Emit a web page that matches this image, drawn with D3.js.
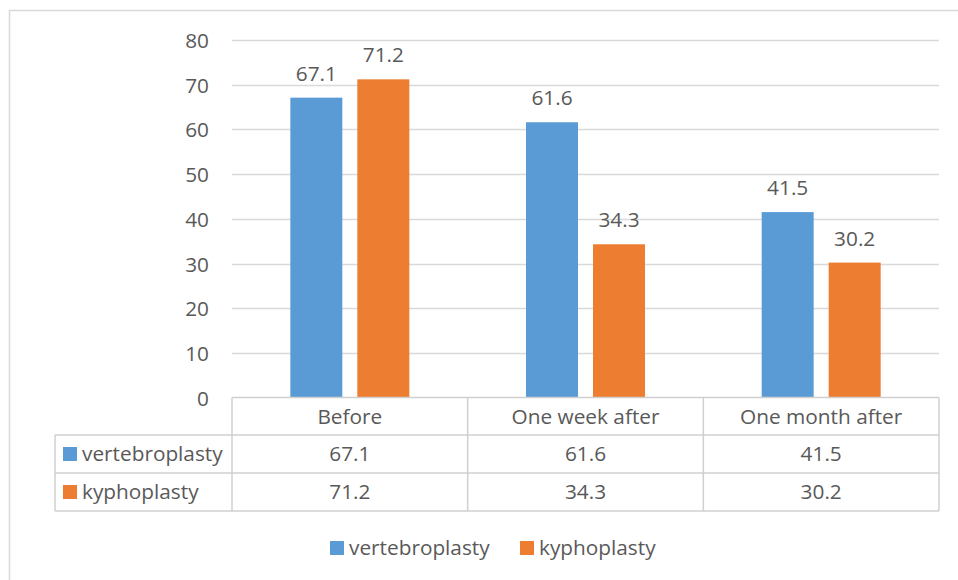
<!DOCTYPE html>
<html><head><meta charset="utf-8">
<script src="https://cdn.jsdelivr.net/npm/d3@7"></script>
<style>body{margin:0;background:#fff}svg{display:block}text{font-family:"Open Sans",sans-serif;fill:#595959}</style>
</head><body><svg id="c" width="958" height="580"></svg>
<script>
const categories = ["Before", "One week after", "One month after"];
const seriesNames = ["vertebroplasty", "kyphoplasty"];
const vertebroplasty = [67.1, 61.6, 41.5];
const kyphoplasty = [71.2, 34.3, 30.2];
const yTicks = [0, 10, 20, 30, 40, 50, 60, 70, 80];
const colors = ["#5b9bd5", "#ed7d31"];

(function () {
const series = [vertebroplasty, kyphoplasty];
const svg = d3.select("#c");
const FS = 20.8;

// outer chart border
svg.append("rect").attr("x", 9.5).attr("y", 10.5).attr("width", 960).attr("height", 580)
  .attr("fill", "none").attr("stroke", "#d9d9d9").attr("stroke-width", 1.5);

const pL = 232, pR = 939, pT = 40, pB = 397.6;
const x = d3.scaleBand().domain(categories).range([pL, pR]).paddingInner(0).paddingOuter(0);
const y = d3.scaleLinear().domain([0, 80]).range([pB, pT]);

// gridlines
svg.append("g").selectAll("line").data(yTicks.filter(d => d > 0)).join("line")
  .attr("x1", pL).attr("x2", pR).attr("y1", d => Math.round(y(d)) + 0.5).attr("y2", d => Math.round(y(d)) + 0.5)
  .attr("stroke", "#d9d9d9").attr("stroke-width", 1.3);

// y axis labels
const yAxis = d3.axisLeft(y).tickValues(yTicks).tickSize(0).tickPadding(0);
const ga = svg.append("g").attr("transform", `translate(${209},0)`).call(yAxis);
ga.select(".domain").remove();
ga.selectAll("text").attr("font-size", FS).attr("font-family", "Open Sans").attr("fill", "#595959").attr("dy", "0.36em");

// bars
const bw = 52, gap = 15;
const x1 = d3.scaleBand().domain([0, 1]).range([0, 2 * bw + gap]).paddingInner(gap / (bw + gap));
series.forEach((vals, si) => {
  const g = svg.append("g");
  g.selectAll("rect").data(vals).join("rect")
    .attr("x", (d, i) => x(categories[i]) + x.bandwidth() / 2 - (2 * bw + gap) / 2 + x1(si))
    .attr("width", x1.bandwidth())
    .attr("y", d => y(d)).attr("height", d => y(0) - y(d))
    .attr("fill", colors[si]);
  g.selectAll("text").data(vals).join("text")
    .attr("x", (d, i) => x(categories[i]) + x.bandwidth() / 2 - (2 * bw + gap) / 2 + x1(si) + x1.bandwidth() / 2)
    .attr("y", d => y(d) - 17)
    .attr("text-anchor", "middle").attr("font-size", FS)
    .text(d => d.toFixed(1));
});

// data table
const tLeft = 55, rows = [397.6, 435, 473, 511];
const tg = svg.append("g").attr("stroke", "#d0d0d0").attr("stroke-width", 1.5);
tg.append("line").attr("x1", pL).attr("x2", pR).attr("y1", rows[0]).attr("y2", rows[0]);
[1, 2, 3].forEach(r => tg.append("line").attr("x1", tLeft).attr("x2", pR).attr("y1", rows[r]).attr("y2", rows[r]));
tg.append("line").attr("x1", tLeft).attr("x2", tLeft).attr("y1", rows[1]).attr("y2", rows[3]);
[pL, ...categories.map(c => x(c) + x.bandwidth())].forEach(vx =>
  tg.append("line").attr("x1", vx).attr("x2", vx).attr("y1", rows[0]).attr("y2", rows[3]));

svg.append("g").selectAll("text").data(categories).join("text")
  .attr("x", d => x(d) + x.bandwidth() / 2).attr("y", (rows[0] + rows[1]) / 2).attr("dy", "0.36em")
  .attr("text-anchor", "middle").attr("font-size", FS).text(d => d);

series.forEach((vals, si) => {
  const cy = (rows[si + 1] + rows[si + 2]) / 2;
  svg.append("rect").attr("x", 63).attr("y", cy - 7).attr("width", 14).attr("height", 14).attr("fill", colors[si]);
  svg.append("text").attr("x", 82).attr("y", cy).attr("dy", "0.36em").attr("font-size", FS).text(seriesNames[si]);
  svg.append("g").selectAll("text").data(vals).join("text")
    .attr("x", (d, i) => x(categories[i]) + x.bandwidth() / 2).attr("y", cy).attr("dy", "0.36em")
    .attr("text-anchor", "middle").attr("font-size", FS).text(d => d.toFixed(1));
});

// legend
const legX = [330, 520];
seriesNames.forEach((n, i) => {
  svg.append("rect").attr("x", legX[i]).attr("y", 541).attr("width", 14).attr("height", 14).attr("fill", colors[i]);
  svg.append("text").attr("x", legX[i] + 19).attr("y", 548).attr("dy", "0.36em").attr("font-size", FS).text(n);
});
})();
</script></body></html>
